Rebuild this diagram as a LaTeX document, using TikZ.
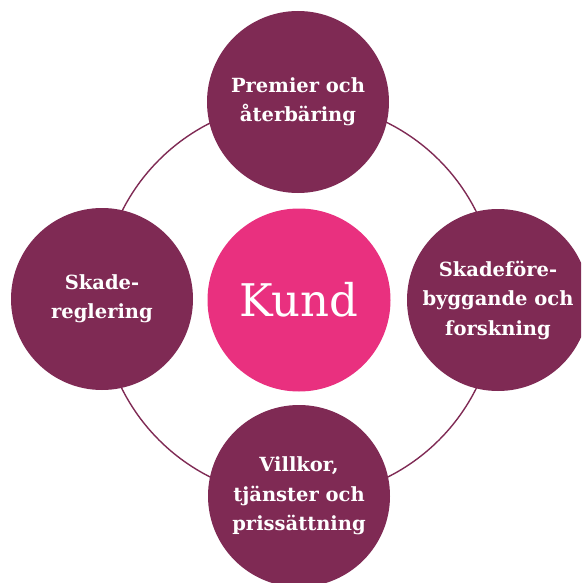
\documentclass[tikz,border=0pt]{standalone}
\usepackage{fontspec}
\setmainfont{DejaVu Serif}
\definecolor{plum}{RGB}{127,42,84}
\definecolor{rose}{RGB}{233,48,127}
\begin{document}
\begin{tikzpicture}[x=1pt,y=-1pt,
  bubble/.style={circle,fill=plum,draw=none,minimum size=182pt,inner sep=0pt,
    align=center,text=white,font=\fontsize{19.5}{29.5}\selectfont\bfseries},
  hub/.style={circle,fill=rose,draw=none,minimum size=183pt,inner sep=0pt,
    text=white,font=\fontsize{45}{50}\selectfont},
  ring/.style={draw=plum,line width=1.4pt}]
\useasboundingbox (0,0) rectangle (581,583);
\clip (0,0) rectangle (581,583);
\coordinate (c) at (299,300);
\draw[ring] (c) circle[radius=198pt];
\node[hub] (kund) at (c) {Kund};
\node[bubble] (top) at (298,102) {Premier och\\återbäring};
\node[bubble] (left) at (102,299) {Skade-\\reglering};
\node[bubble] (right) at (498,300) {Skadeföre-\\byggande och\\forskning};
\node[bubble] (bottom) at (299,496) {Villkor,\\tjänster och\\prissättning};
\end{tikzpicture}
\end{document}
